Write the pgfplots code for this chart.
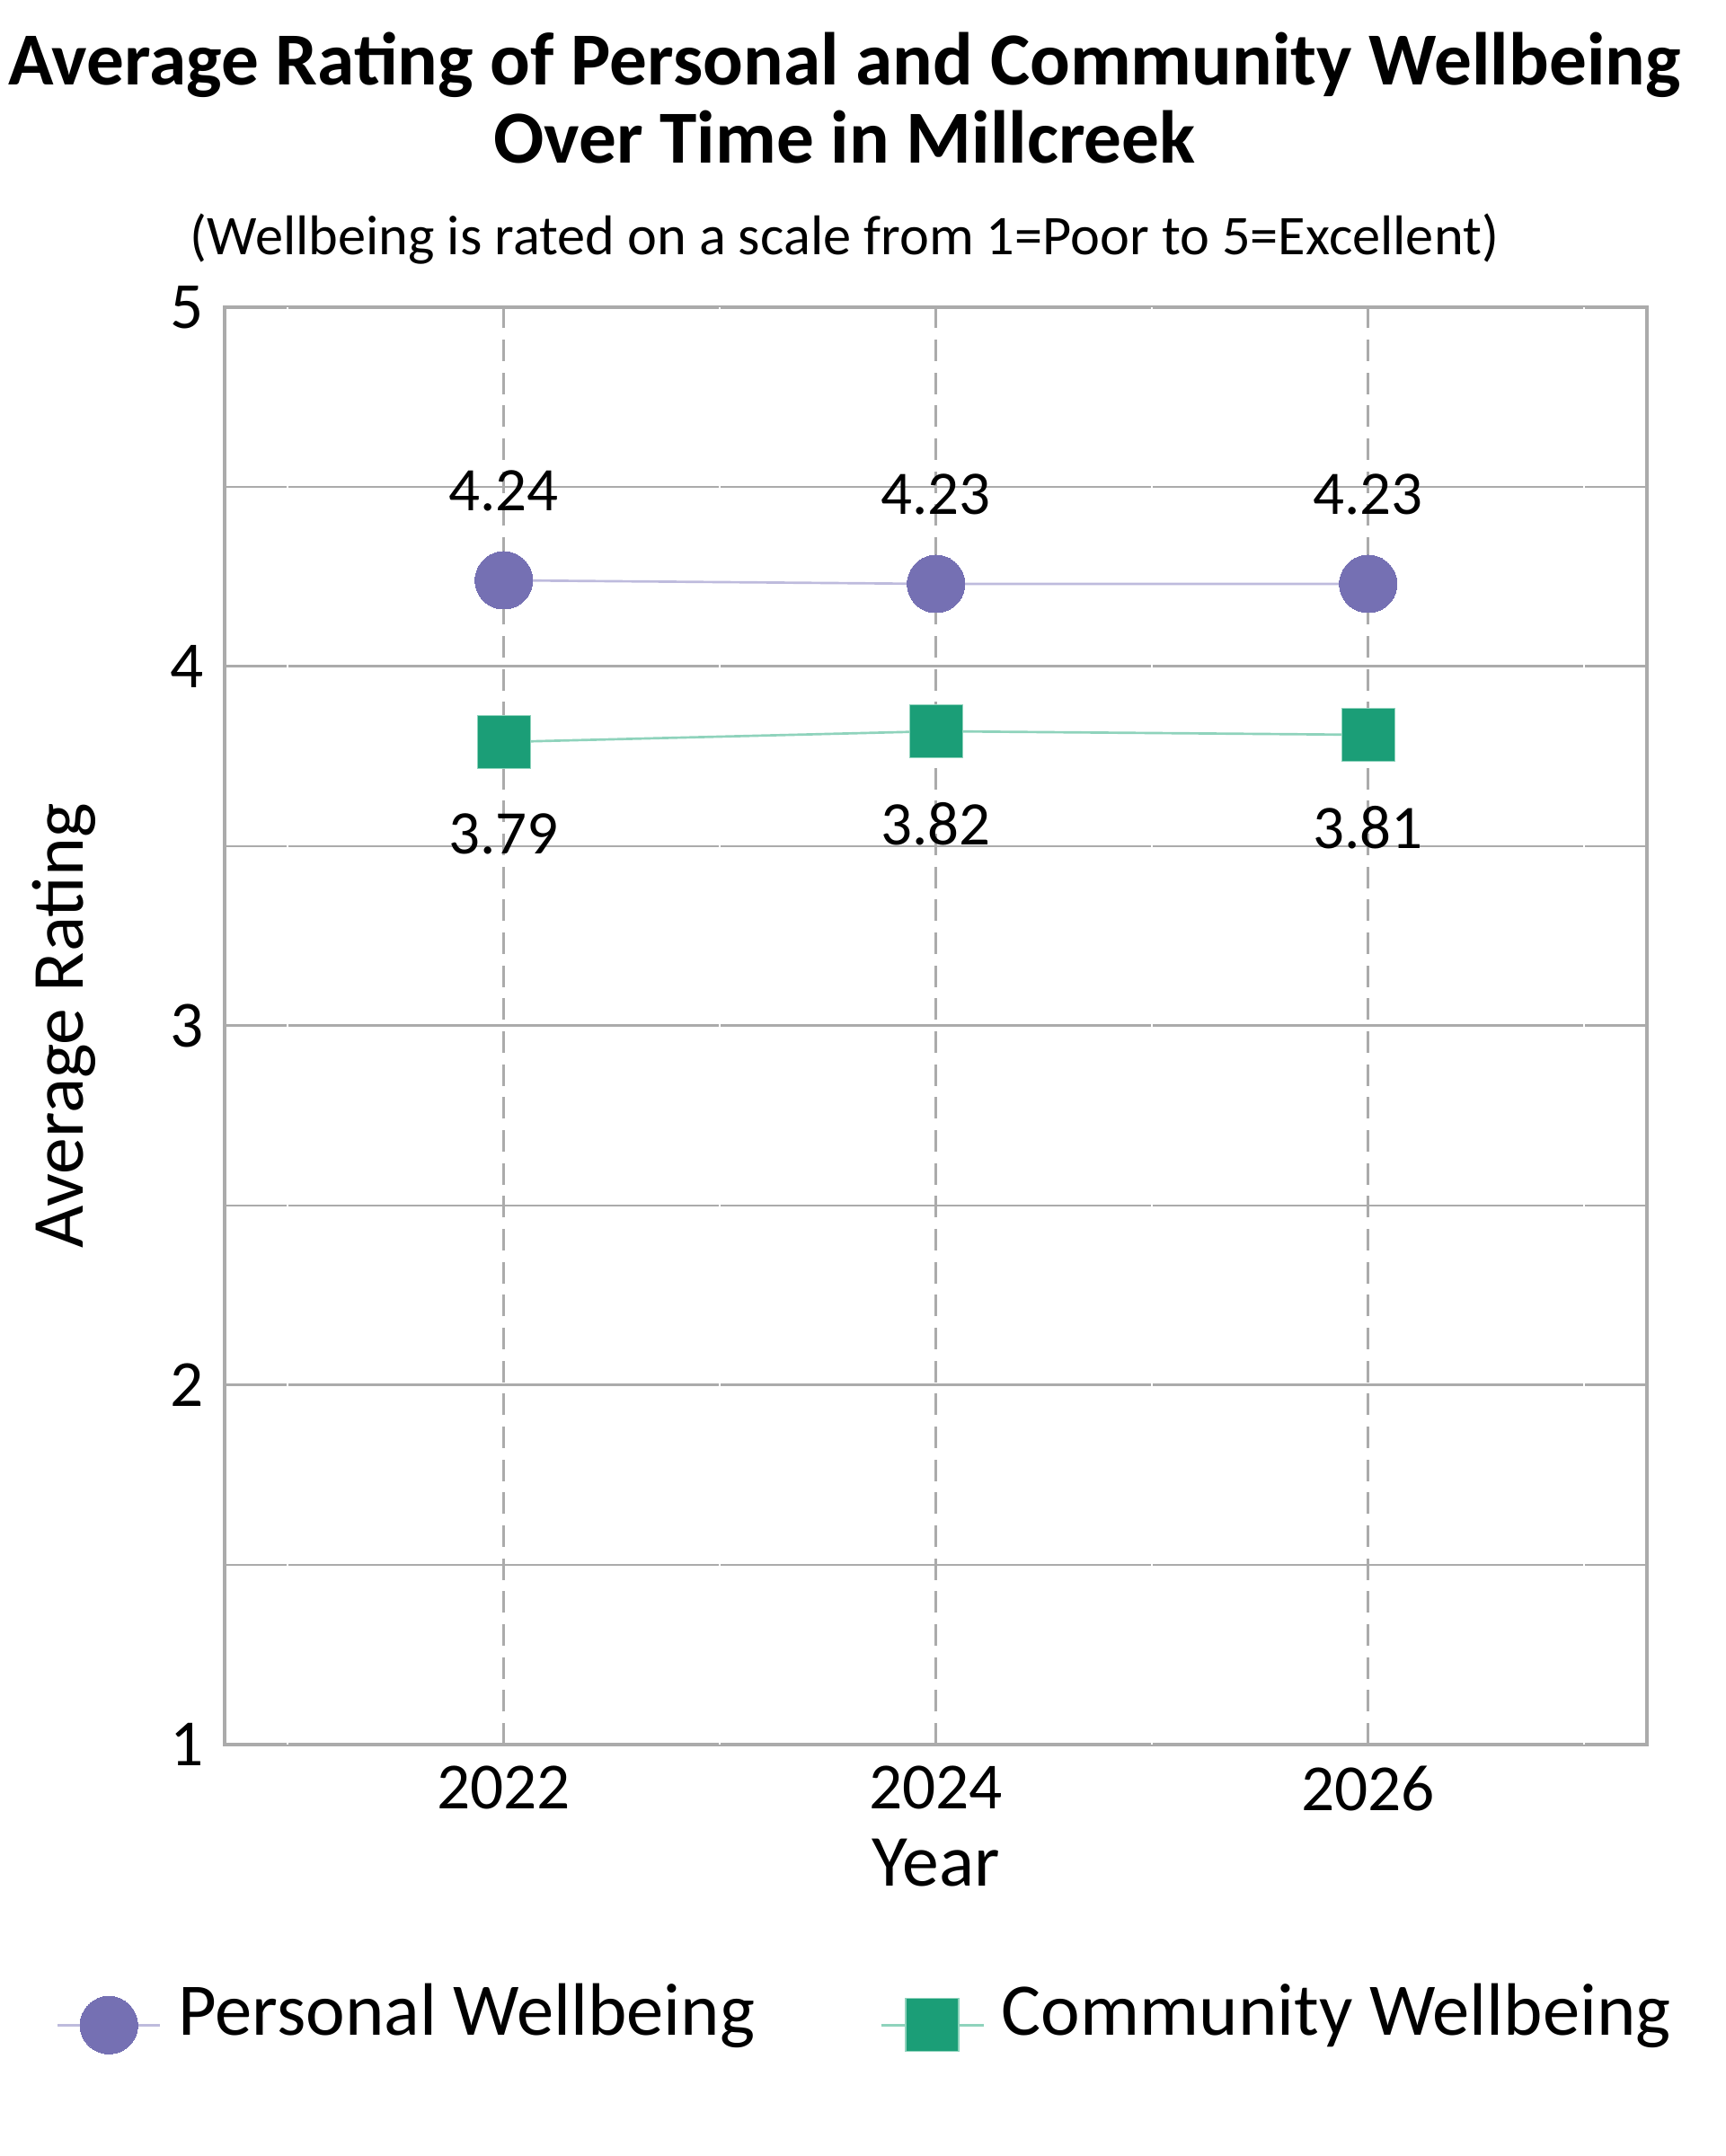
\documentclass[border=0pt]{standalone}
\usepackage{fontspec}
\setmainfont{Carlito}
\usepackage{pgfplots}
\pgfplotsset{compat=1.18}

\definecolor{purpmark}{HTML}{7570B3}
\definecolor{purpline}{HTML}{BEBBDD}
\definecolor{greenmark}{HTML}{1B9E77}
\definecolor{greenline}{HTML}{8FD3BC}
\definecolor{gridgray}{HTML}{ABABAB}

\begin{document}
\begin{tikzpicture}
\useasboundingbox (0,0) rectangle (576pt,720pt);

% titles
\node[font=\fontsize{25}{30}\selectfont\bfseries, anchor=base, inner sep=0pt] at (282pt,691.5pt)
  {Average Rating of Personal and Community Wellbeing};
\node[font=\fontsize{25}{30}\selectfont\bfseries, anchor=base, inner sep=0pt] at (282pt,665.4pt)
  {Over Time in Millcreek};
\node[font=\fontsize{18.7}{22}\selectfont, anchor=base, inner sep=0pt] at (282pt,634.9pt)
  {(Wellbeing is rated on a scale from 1=Poor to 5=Excellent)};

\begin{axis}[
    at={(75pt,137.4pt)}, anchor=south west,
    scale only axis,
    width=474.9pt, height=480pt,
    xmin=2020.708, xmax=2027.29,
    ymin=1, ymax=5,
    xtick={2022,2024,2026},
    ytick={1,2,3,4,5},
    minor ytick={1.5,2.5,3.5,4.5},
    /pgf/number format/.cd, 1000 sep={}, assume math mode=true, /pgfplots/.cd,
    major tick length=0pt, minor tick length=0pt,
    xmajorgrids, ymajorgrids, yminorgrids,
    major x grid style={gridgray, line width=1pt, dash pattern=on 7.2pt off 3.8pt},
    major y grid style={gridgray, line width=0.9pt},
    minor y grid style={gridgray, line width=0.6pt},
    axis line style={gridgray, line width=1.2pt},
    tick label style={font=\fontsize{22}{26}\selectfont, text=black},
    yticklabel style={anchor=east, inner sep=0pt, xshift=-6.9pt},
    xticklabel style={anchor=north, inner sep=0pt, yshift=-6.9pt},
    xlabel={Year},
    ylabel={Average Rating},
    label style={font=\fontsize{24.5}{29}\selectfont},
    xlabel style={at={(axis description cs:0.5,-0.098125)}, anchor=base, inner sep=0pt},
    ylabel style={at={(axis description cs:-0.0998,0.5)}, anchor=base, inner sep=0pt},
    legend columns=2,
    legend style={draw=none, fill=none, inner sep=0pt,
        at={(axis description cs:-0.1186,-0.1952)}, anchor=west,
        font=\fontsize{24.8}{29}\selectfont,
        nodes={inner sep=0pt, text depth=0pt, text height=0.644em},
        /tikz/every odd column/.append style={column sep=5.7pt},
        /tikz/every even column/.append style={column sep=41.7pt}},
    legend image code/.code={
        \draw[mark repeat=2, mark phase=2] plot coordinates {(0pt,0pt) (17.1pt,0pt) (34.2pt,0pt)};
    },
]

% white minor verticals at odd years
\draw[white, line width=0.6pt] (axis cs:2021,1) -- (axis cs:2021,5);
\draw[white, line width=0.6pt] (axis cs:2023,1) -- (axis cs:2023,5);
\draw[white, line width=0.6pt] (axis cs:2025,1) -- (axis cs:2025,5);
\draw[white, line width=0.6pt] (axis cs:2027,1) -- (axis cs:2027,5);

\addplot[purpline, line width=0.8pt, mark=*, mark size=9.6pt,
    mark options={fill=purpmark, draw=purpmark, line width=0pt},
    nodes near coords,
    every node near coord/.append style={anchor=base, yshift=23.1pt, inner sep=0pt,
        text=black, font=\fontsize{20.7}{25}\selectfont}]
    coordinates {(2022,4.24) (2024,4.23) (2026,4.23)};
\addlegendentry{Personal Wellbeing}

\addplot[greenline, line width=0.8pt, mark=square*, mark size=8.85pt,
    mark options={fill=greenmark, draw=greenline, line width=0.4pt},
    nodes near coords,
    every node near coord/.append style={anchor=north, yshift=-23.7pt, inner sep=0pt,
        text=black, font=\fontsize{20.7}{25}\selectfont}]
    coordinates {(2022,3.79) (2024,3.82) (2026,3.81)};
\addlegendentry{Community Wellbeing}

\end{axis}
\end{tikzpicture}
\end{document}
